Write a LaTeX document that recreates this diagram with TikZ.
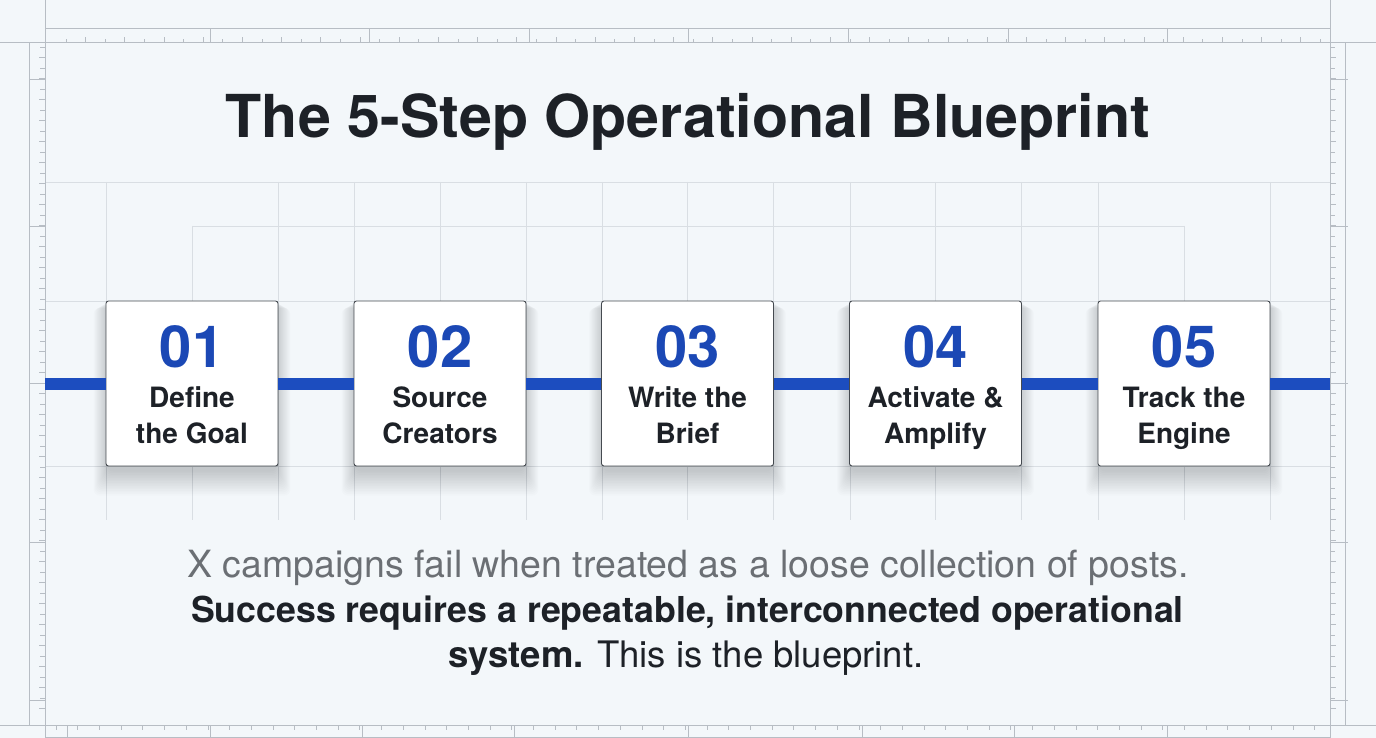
\documentclass[tikz,border=0pt]{standalone}
\usepackage{fontspec}
\setmainfont{TeX Gyre Heros}
\usetikzlibrary{calc}
\definecolor{bg}{HTML}{F3F7FA}
\definecolor{gridc}{HTML}{D9DEE3}
\definecolor{rulec}{HTML}{B7BDC4}
\definecolor{blueline}{HTML}{1C4DBF}
\definecolor{numblue}{HTML}{1B48B5}
\definecolor{ink}{HTML}{1D2127}
\definecolor{graytext}{HTML}{6B6F74}
\definecolor{boxedge}{HTML}{454A50}
\begin{document}
\begin{tikzpicture}[x=1pt,y=-1pt,
  gridline/.style={draw=gridc,line width=0.8pt},
  ruleline/.style={draw=rulec,line width=1pt},
  tickline/.style={draw=rulec,line width=0.7pt},
  stepbox/.style={draw=boxedge,line width=0.9pt,fill=white,rounded corners=2.5pt,
    minimum width=172pt,minimum height=165pt,inner sep=0pt},
  numtext/.style={text=numblue,font=\fontsize{58}{58}\selectfont\bfseries,anchor=base,inner sep=0pt},
  labtext/.style={text=ink,font=\fontsize{28}{28}\selectfont\bfseries,anchor=base,inner sep=0pt},
  link/.style={draw=blueline,line width=12pt},
  titletext/.style={text=ink,font=\fontsize{59.2}{59.2}\selectfont\bfseries,anchor=base,inner sep=0pt},
  bodytext/.style={anchor=base,inner sep=0pt},
]
\useasboundingbox (0,0) rectangle (1376,738);
\fill[bg] (0,0) rectangle (1376,738);

% grid
\draw[gridline] (45,182) -- (1330,182);
\draw[gridline] (192,226) -- (1184,226);
\draw[gridline] (45,301) -- (1330,301);
\draw[gridline] (45,466) -- (1330,466);
\foreach \x in {106,278,354,440,526,602,687,773,850,935,1021,1098,1270}
  \draw[gridline] (\x,182) -- (\x,520);
\foreach \x in {192,1184}
  \draw[gridline] (\x,226) -- (\x,520);

% rulers / frame
\draw[ruleline] (45,0) -- (45,738);
\draw[ruleline] (1330,0) -- (1330,738);
\draw[ruleline] (0,43) -- (1376,43);
\draw[ruleline] (0,725) -- (1376,725);
\draw[ruleline] (45,29) -- (1330,29);
\draw[ruleline] (29,43) -- (29,725);
\draw[ruleline] (1345,43) -- (1345,725);
\draw[ruleline] (45,737) -- (1330,737);
\foreach \i in {0,...,64}
  \draw[tickline] ({66+\i*19.6},43) -- ++(0,{-4-mod(\i,2)*2});
\foreach \x in {210,369,529,688,848,1008,1167}
  \draw[tickline] (\x,29) -- (\x,43);
\foreach \i in {0,...,58}
  \draw[tickline] ({56+\i*21.7},725) -- ++(0,5);
\foreach \x in {67,210,362,514,688,862,1014,1167}
  \draw[tickline] (\x,725) -- (\x,737);
\foreach \i in {0,...,63}
  \draw[tickline] (45,{47+\i*10.5}) -- ++({-5-mod(\i,2)*1},0);
\foreach \i in {0,...,63}
  \draw[tickline] (1330,{47+\i*10.5}) -- ++({5+mod(\i,2)*1},0);
\foreach \y in {79,226,383,542,700} {
  \draw[tickline] (29,\y) -- (45,\y);
  \draw[tickline] (1330,\y) -- (1348,\y);
}

% shadows
\foreach \cx in {192,440,687.5,935.5,1184}
  \foreach \i in {1,...,16}
    \fill[black,opacity=0.01,rounded corners=6pt]
      ({\cx-84-\i*0.9},{300+\i*0.5}) rectangle ({\cx+84+\i*0.9},{470+\i*1.6});

% title
\node[titletext] (title) at (688,138) {The 5-Step Operational Blueprint};

% steps
\node[stepbox] (s1) at (192,383.5) {};
\node[stepbox] (s2) at (440,383.5) {};
\node[stepbox] (s3) at (687.5,383.5) {};
\node[stepbox] (s4) at (935.5,383.5) {};
\node[stepbox] (s5) at (1184,383.5) {};

\coordinate (lstart) at (45,383.5);
\coordinate (lend) at (1330,383.5);
\draw[link] (lstart) -- (s1.west);
\draw[link] (s1.east) -- (s2.west);
\draw[link] (s2.east) -- (s3.west);
\draw[link] (s3.east) -- (s4.west);
\draw[link] (s4.east) -- (s5.west);
\draw[link] (s5.east) -- (lend);

\node[numtext] (n1) at (192,367) {01};
\node[numtext] (n2) at (440,367) {02};
\node[numtext] (n3) at (687.5,367) {03};
\node[numtext] (n4) at (935.5,367) {04};
\node[numtext] (n5) at (1184,367) {05};

\node[labtext] (a1) at (192,407) {Define};
\node[labtext] (b1) at (192,443) {the Goal};
\node[labtext] (a2) at (440,407) {Source};
\node[labtext] (b2) at (440,443) {Creators};
\node[labtext] (a3) at (687.5,407) {Write the};
\node[labtext] (b3) at (687.5,443) {Brief};
\node[labtext] (a4) at (935.5,407) {Activate \&};
\node[labtext] (b4) at (935.5,443) {Amplify};
\node[labtext] (a5) at (1184,407) {Track the};
\node[labtext] (b5) at (1184,443) {Engine};

% body text
\node[bodytext,text=graytext,font=\fontsize{37.5}{37.5}\selectfont] (t1) at (688,577)
  {X campaigns fail when treated as a loose collection of posts.};
\node[bodytext,text=ink,font=\fontsize{35.7}{35.7}\selectfont\bfseries] (t2) at (687.5,622)
  {Success requires a repeatable, interconnected operational};
\node[bodytext,text=ink,font=\fontsize{36.5}{36.5}\selectfont] (t3) at (686,667)
  {\textbf{system.} This is the blueprint.};
\end{tikzpicture}
\end{document}
